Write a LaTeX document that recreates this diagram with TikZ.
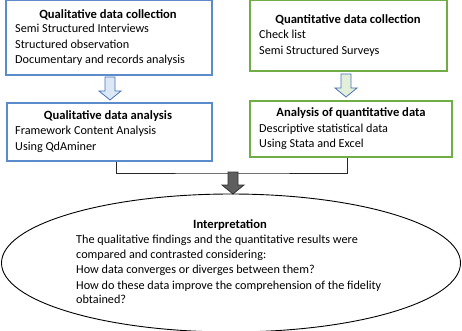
\documentclass[tikz,border=0pt]{standalone}
\usepackage{fontspec}
\setmainfont{Carlito}
\usetikzlibrary{shapes.geometric}
\definecolor{bbox}{HTML}{5B8BCB}
\definecolor{gbox}{HTML}{70AD47}
\definecolor{barrowfill}{HTML}{DCE8F5}
\definecolor{garrowfill}{HTML}{E2F0D9}
\definecolor{aline}{HTML}{4A72B8}
\definecolor{darkarrow}{HTML}{5E5E5E}
\tikzset{
  bluebox/.style={draw=bbox, line width=1.1pt, fill=white},
  greenbox/.style={draw=gbox, line width=1.1pt, fill=white},
  ttl/.style={font=\fontsize{12.6}{14}\selectfont\bfseries, anchor=base, inner sep=0pt},
  txt/.style={font=\fontsize{12.2}{14}\selectfont, anchor=base west, inner sep=0pt},
  conn/.style={draw=black!85, line width=0.9pt},
}
\newcommand{\blockarrow}[5]{% x, ytop, ybottom, fill, draw
  \filldraw[fill=#4, draw=#5, line width=0.8pt, line join=miter]
    (#1-5,#2) -- (#1+5,#2) -- (#1+5,#3-9) -- (#1+11,#3-9) -- (#1,#3)
    -- (#1-11,#3-9) -- (#1-5,#3-9) -- cycle;}
\begin{document}
\begin{tikzpicture}[x=1pt,y=-1pt]
\useasboundingbox (0,0) rectangle (462,331);
\fill[white] (0,0) rectangle (462,331);
% boxes
\node[bluebox, minimum width=206pt, minimum height=75pt, inner sep=0pt] (qc) at (109,37.5) {};
\node[bluebox, minimum width=205pt, minimum height=58pt, inner sep=0pt] (qa) at (109.5,132) {};
\node[greenbox, minimum width=197pt, minimum height=71pt, inner sep=0pt] (nc) at (348.5,35.5) {};
\node[greenbox, minimum width=202pt, minimum height=56pt, inner sep=0pt] (na) at (351,129) {};
% connectors
\draw[conn] ([xshift=6.5pt]qa.south) |- coordinate (mid) (233,173) -| ([xshift=-4pt]na.south);
% block arrows
\blockarrow{110}{77}{100}{barrowfill}{aline}
\blockarrow{346}{74}{97}{garrowfill}{aline}
\blockarrow{233}{172}{194}{darkarrow}{black!80}
% ellipse
\node[draw=black, line width=0.9pt, ellipse, minimum width=459pt, minimum height=138pt, inner sep=0pt] (ip) at (231,263) {};
% texts box 1
\node[ttl] (t1) at (108,19) {Qualitative data collection};
\node[txt] (l11) at (15,33) {Semi Structured Interviews};
\node[txt] (l12) at (15,49) {Structured observation};
\node[txt] (l13) at (15,64) {Documentary and records analysis};
% box 2
\node[ttl] (t2) at (108,120) {Qualitative data analysis};
\node[txt] (l21) at (15,135) {Framework Content Analysis};
\node[txt] (l22) at (15,150) {Using QdAminer};
% box 3
\node[ttl] (t3) at (348,24) {Quantitative data collection};
\node[txt] (l31) at (259,39) {Check list};
\node[txt] (l32) at (259,55) {Semi Structured Surveys};
% box 4
\node[ttl] (t4) at (351,117) {Analysis of quantitative data};
\node[txt] (l41) at (259,132) {Descriptive statistical data};
\node[txt] (l42) at (259,147) {Using Stata and Excel};
% ellipse text
\node[ttl] (t5) at (230,228) {Interpretation};
\node[txt] (l51) at (76,243) {The qualitative findings and the quantitative results were};
\node[txt] (l52) at (76,258) {compared and contrasted considering:};
\node[txt] (l53) at (76,273) {How data converges or diverges between them?};
\node[txt] (l54) at (76,289) {How do these data improve the comprehension of the fidelity};
\node[txt] (l55) at (76,303) {obtained?};
\end{tikzpicture}
\end{document}
